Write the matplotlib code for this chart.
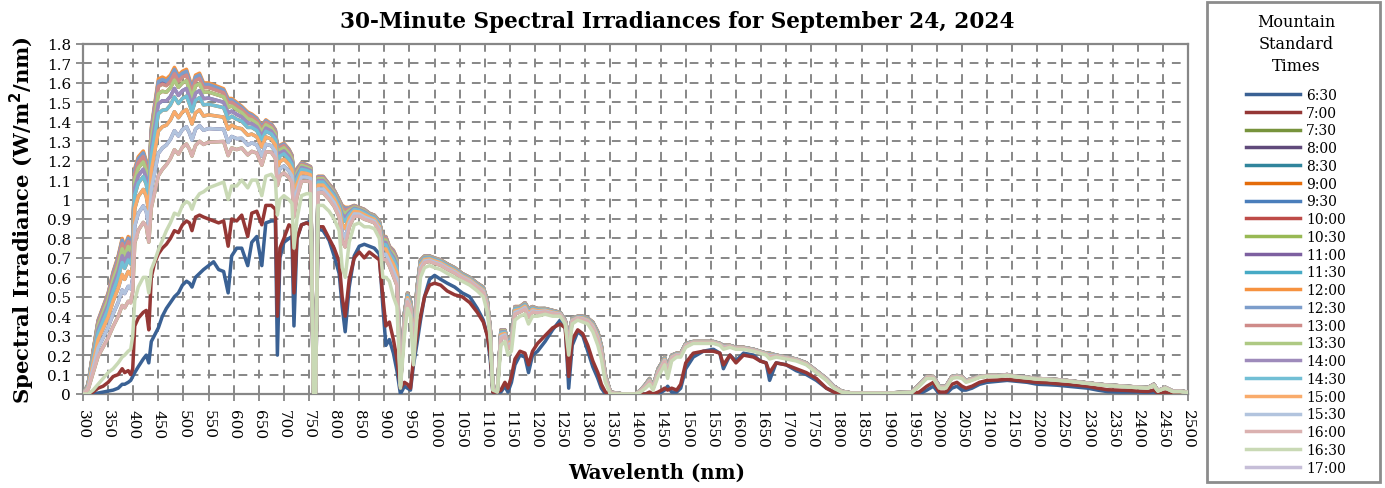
import numpy as np
import matplotlib
matplotlib.use("Agg")
import matplotlib.pyplot as plt
from matplotlib.patches import Rectangle
from matplotlib.ticker import MultipleLocator, FuncFormatter

plt.rcParams['font.family'] = ['DejaVu Serif', 'Liberation Serif']

# ---------------- data ----------------
wavelength_nm = [
    300, 310, 320, 330, 340, 350, 360, 370, 378, 383,
    390, 395, 399, 403, 410, 420, 426, 431, 436, 442,
    450, 458, 466, 474, 482, 490, 498, 506, 512, 517,
    524, 532, 540, 550, 560, 570, 580, 589, 596, 606,
    616, 628, 636, 646, 656, 664, 675, 683, 687, 692,
    700, 710, 716, 720, 726, 735, 745, 753, 759, 763,
    768, 778, 790, 800, 810, 816, 822, 830, 840, 850,
    860, 870, 880, 890, 897, 903, 910, 918, 925, 932,
    940, 946, 952, 958, 965, 972, 980, 990, 1000, 1012,
    1025, 1040, 1055, 1070, 1085, 1097, 1105, 1111, 1116, 1125,
    1132, 1140, 1146, 1153, 1160, 1170, 1180, 1187, 1195, 1205,
    1220, 1235, 1250, 1260, 1267, 1274, 1285, 1295, 1305, 1315,
    1325, 1332, 1340, 1350, 1375, 1400, 1410, 1420, 1428, 1435,
    1445, 1452, 1458, 1464, 1472, 1482, 1490, 1500, 1515, 1535,
    1555, 1568, 1575, 1588, 1600, 1615, 1635, 1648, 1660, 1667,
    1680, 1700, 1720, 1740, 1760, 1780, 1795, 1810, 1830, 1900,
    1950, 1965, 1980, 1993, 2005, 2018, 2030, 2040, 2050, 2058,
    2070, 2085, 2100, 2120, 2140, 2160, 2180, 2200, 2220, 2240,
    2260, 2280, 2300, 2320, 2340, 2360, 2380, 2400, 2420, 2432,
    2440, 2455, 2470, 2485, 2500,
]

# 12:00 (highest curve)
irr_1200 = [
    0.0, 0.05, 0.22, 0.38, 0.45, 0.52, 0.63, 0.71, 0.80, 0.76,
    0.81, 0.78, 0.82, 1.16, 1.22, 1.25, 1.20, 1.12, 1.37, 1.48,
    1.62, 1.63, 1.62, 1.64, 1.68, 1.64, 1.66, 1.67, 1.62, 1.58,
    1.64, 1.65, 1.60, 1.60, 1.59, 1.58, 1.57, 1.52, 1.52, 1.50,
    1.48, 1.45, 1.44, 1.42, 1.38, 1.41, 1.39, 1.36, 1.27, 1.28,
    1.29, 1.26, 1.23, 1.12, 1.16, 1.19, 1.18, 1.17, 0.02, 0.01,
    1.12, 1.12, 1.08, 1.05, 1.00, 0.97, 0.96, 0.96, 0.97, 0.96,
    0.95, 0.93, 0.92, 0.89, 0.81, 0.81, 0.76, 0.74, 0.70, 0.05,
    0.42, 0.52, 0.48, 0.30, 0.55, 0.69, 0.71, 0.71, 0.70, 0.69,
    0.67, 0.65, 0.62, 0.60, 0.57, 0.55, 0.48, 0.33, 0.03, 0.02,
    0.33, 0.33, 0.27, 0.30, 0.45, 0.45, 0.47, 0.44, 0.45, 0.44,
    0.44, 0.43, 0.42, 0.38, 0.30, 0.39, 0.40, 0.40, 0.39, 0.37,
    0.32, 0.25, 0.10, 0.01, 0.0, 0.0, 0.02, 0.05, 0.08, 0.04,
    0.13, 0.16, 0.19, 0.14, 0.20, 0.21, 0.21, 0.26, 0.27, 0.27,
    0.27, 0.26, 0.25, 0.25, 0.24, 0.24, 0.23, 0.22, 0.21, 0.21,
    0.20, 0.19, 0.18, 0.16, 0.12, 0.08, 0.04, 0.015, 0.005, 0.005,
    0.01, 0.05, 0.09, 0.09, 0.04, 0.04, 0.09, 0.095, 0.09, 0.07,
    0.08, 0.09, 0.095, 0.095, 0.10, 0.09, 0.086, 0.08, 0.077, 0.074,
    0.069, 0.063, 0.057, 0.051, 0.046, 0.043, 0.039, 0.036, 0.033, 0.05,
    0.017, 0.034, 0.015, 0.015, 0.01,
]

# 16:30
irr_1630 = [
    0.0, 0.0, 0.02, 0.05, 0.08, 0.11, 0.13, 0.16, 0.19, 0.20,
    0.22, 0.23, 0.30, 0.48, 0.55, 0.60, 0.60, 0.52, 0.64, 0.68,
    0.74, 0.79, 0.84, 0.88, 0.93, 0.92, 0.97, 0.99, 0.98, 0.95,
    1.00, 1.03, 1.04, 1.06, 1.07, 1.08, 1.09, 1.00, 1.07, 1.07,
    1.10, 1.06, 1.10, 1.10, 1.02, 1.12, 1.13, 1.10, 0.92, 1.00,
    1.02, 1.00, 0.98, 0.75, 0.90, 1.02, 1.03, 1.03, 0.0, 0.0,
    0.97, 0.97, 0.94, 0.90, 0.84, 0.65, 0.60, 0.78, 0.87, 0.88,
    0.86, 0.86, 0.85, 0.80, 0.60, 0.60, 0.58, 0.50, 0.45, 0.03,
    0.30, 0.44, 0.40, 0.15, 0.40, 0.60, 0.65, 0.66, 0.65, 0.64,
    0.62, 0.60, 0.58, 0.56, 0.53, 0.50, 0.42, 0.28, 0.02, 0.01,
    0.25, 0.27, 0.20, 0.22, 0.38, 0.40, 0.41, 0.36, 0.40, 0.40,
    0.41, 0.40, 0.40, 0.36, 0.20, 0.36, 0.38, 0.37, 0.36, 0.32,
    0.25, 0.18, 0.06, 0.0, 0.0, 0.0, 0.01, 0.03, 0.05, 0.02,
    0.09, 0.12, 0.15, 0.08, 0.17, 0.19, 0.19, 0.24, 0.26, 0.26,
    0.26, 0.25, 0.23, 0.24, 0.23, 0.23, 0.22, 0.21, 0.20, 0.18,
    0.19, 0.18, 0.17, 0.15, 0.11, 0.07, 0.03, 0.01, 0.003, 0.003,
    0.008, 0.04, 0.08, 0.08, 0.03, 0.03, 0.08, 0.085, 0.08, 0.06,
    0.07, 0.085, 0.09, 0.09, 0.095, 0.087, 0.082, 0.076, 0.074, 0.07,
    0.066, 0.06, 0.054, 0.048, 0.043, 0.04, 0.036, 0.033, 0.03, 0.045,
    0.015, 0.03, 0.012, 0.012, 0.008,
]

# 7:00
irr_0700 = [
    0.0, 0.0, 0.01, 0.03, 0.04, 0.06, 0.09, 0.10, 0.13, 0.11,
    0.12, 0.10, 0.13, 0.35, 0.39, 0.42, 0.43, 0.33, 0.60, 0.67,
    0.72, 0.75, 0.77, 0.80, 0.84, 0.83, 0.87, 0.89, 0.88, 0.84,
    0.91, 0.92, 0.91, 0.90, 0.89, 0.88, 0.89, 0.76, 0.90, 0.89,
    0.92, 0.81, 0.93, 0.94, 0.87, 0.97, 0.97, 0.95, 0.40, 0.75,
    0.80, 0.87, 0.86, 0.52, 0.80, 0.87, 0.88, 0.87, 0.0, 0.0,
    0.86, 0.86, 0.80, 0.75, 0.68, 0.50, 0.40, 0.59, 0.70, 0.73,
    0.70, 0.73, 0.71, 0.69, 0.50, 0.35, 0.37, 0.28, 0.18, 0.03,
    0.06, 0.05, 0.03, 0.18, 0.30, 0.40, 0.50, 0.56, 0.57, 0.56,
    0.53, 0.51, 0.50, 0.47, 0.42, 0.37, 0.30, 0.20, 0.01, 0.01,
    0.02, 0.06, 0.03, 0.09, 0.18, 0.22, 0.21, 0.15, 0.22, 0.26,
    0.30, 0.34, 0.36, 0.34, 0.09, 0.28, 0.33, 0.31, 0.25, 0.17,
    0.11, 0.05, 0.01, 0.0, 0.0, 0.0, 0.0, 0.0, 0.01, 0.0,
    0.01, 0.02, 0.03, 0.02, 0.03, 0.02, 0.05, 0.16, 0.21, 0.22,
    0.22, 0.21, 0.15, 0.20, 0.16, 0.20, 0.19, 0.17, 0.16, 0.11,
    0.16, 0.15, 0.13, 0.11, 0.08, 0.03, 0.01, 0.0, 0.0, 0.0,
    0.0, 0.01, 0.04, 0.06, 0.01, 0.01, 0.05, 0.06, 0.04, 0.03,
    0.04, 0.06, 0.07, 0.072, 0.075, 0.07, 0.065, 0.06, 0.058, 0.053,
    0.05, 0.045, 0.04, 0.03, 0.022, 0.02, 0.018, 0.015, 0.013, 0.02,
    0.005, 0.01, 0.004, 0.003, 0.0,
]

# 6:30
irr_0630 = [
    0.0, 0.0, 0.0, 0.005, 0.01, 0.015, 0.02, 0.03, 0.05, 0.05,
    0.06, 0.07, 0.09, 0.11, 0.14, 0.18, 0.20, 0.16, 0.27, 0.30,
    0.34, 0.40, 0.44, 0.47, 0.50, 0.52, 0.56, 0.58, 0.57, 0.55,
    0.60, 0.62, 0.64, 0.66, 0.68, 0.64, 0.63, 0.52, 0.71, 0.75,
    0.75, 0.66, 0.78, 0.81, 0.66, 0.88, 0.89, 0.89, 0.20, 0.70,
    0.78, 0.80, 0.81, 0.35, 0.80, 0.87, 0.88, 0.89, 0.0, 0.0,
    0.85, 0.84, 0.79, 0.71, 0.62, 0.45, 0.32, 0.55, 0.71, 0.76,
    0.77, 0.76, 0.75, 0.72, 0.45, 0.25, 0.28, 0.21, 0.12, 0.0,
    0.04, 0.03, 0.02, 0.15, 0.26, 0.38, 0.50, 0.59, 0.61, 0.59,
    0.57, 0.55, 0.52, 0.50, 0.44, 0.38, 0.30, 0.17, 0.01, 0.01,
    0.01, 0.04, 0.01, 0.06, 0.15, 0.20, 0.19, 0.11, 0.20, 0.22,
    0.27, 0.33, 0.38, 0.36, 0.03, 0.25, 0.32, 0.30, 0.22, 0.14,
    0.08, 0.03, 0.0, 0.0, 0.0, 0.0, 0.0, 0.0, 0.0, 0.0,
    0.0, 0.01, 0.02, 0.04, 0.01, 0.01, 0.03, 0.13, 0.19, 0.22,
    0.23, 0.21, 0.13, 0.20, 0.17, 0.21, 0.20, 0.17, 0.16, 0.07,
    0.16, 0.15, 0.12, 0.10, 0.07, 0.03, 0.01, 0.0, 0.0, 0.0,
    0.0, 0.0, 0.02, 0.04, 0.0, 0.0, 0.03, 0.04, 0.02, 0.02,
    0.03, 0.05, 0.06, 0.065, 0.07, 0.065, 0.06, 0.05, 0.048, 0.045,
    0.04, 0.035, 0.03, 0.02, 0.012, 0.01, 0.01, 0.01, 0.008, 0.01,
    0.0, 0.005, 0.0, 0.0, 0.0,
]

# Times whose curves lie between the 16:30 and 12:00 curves, with the
# irradiance level read for each at 498 nm (W/m2/nm)
mid_times = ['7:30', '8:00', '8:30', '9:00', '9:30', '10:00', '10:30',
             '11:00', '11:30', '12:30', '13:00', '13:30', '14:00',
             '14:30', '15:00', '15:30', '16:00']
mid_level_498nm = [1.27, 1.36, 1.45, 1.52, 1.56, 1.60, 1.63,
                   1.64, 1.65, 1.65, 1.63, 1.60, 1.56,
                   1.52, 1.45, 1.36, 1.27]

times = ['6:30', '7:00', '7:30', '8:00', '8:30', '9:00', '9:30', '10:00',
         '10:30', '11:00', '11:30', '12:00', '12:30', '13:00', '13:30',
         '14:00', '14:30', '15:00', '15:30', '16:00', '16:30', '17:00']

colors = ['#3A6194', '#953735', '#77933C', '#604A7B', '#31859C', '#E46C0A',
          '#4A7EBB', '#BE4B48', '#98B954', '#7D60A0', '#46AAC5', '#F69240',
          '#7C9DCB', '#CF8B89', '#AEC983', '#9E8BBB', '#72BFD5', '#F9AB6B',
          '#B2C4DE', '#DBB1B0', '#C9D9B5', '#C6BED8']

# ---------------- build series ----------------
wl = np.array(wavelength_nm, dtype=float)
top = np.array(irr_1200)
low = np.array(irr_1630)
ref = wavelength_nm.index(498)
series = {'6:30': np.array(irr_0630), '7:00': np.array(irr_0700),
          '12:00': top, '16:30': low, '17:00': None}
for t, lvl in zip(mid_times, mid_level_498nm):
    w = (lvl - low[ref]) / (top[ref] - low[ref])
    series[t] = low + w * (top - low)

# ---------------- figure ----------------
W, H = 1385, 489
fig = plt.figure(figsize=(W / 100, H / 100), dpi=100)
ax = fig.add_axes([83 / W, 1 - 395 / H, (1188 - 83) / W, (395 - 45) / H])

grid_c = '#878787'
for t, c in zip(times, colors):
    y = series[t]
    if y is None:
        ax.plot([], [], color=c, lw=2.5, label=t)
    else:
        ax.plot(wl, y, color=c, lw=2.5, label=t, zorder=3)

ax.set_xlim(300, 2500)
ax.set_ylim(0, 1.8)
ax.xaxis.set_major_locator(MultipleLocator(50))
ax.yaxis.set_major_locator(MultipleLocator(0.1))
ax.yaxis.set_major_formatter(FuncFormatter(lambda v, p: f"{round(v, 1):g}"))
ax.grid(True, color=grid_c, lw=1.4, linestyle=(0, (4.5, 3.5)), zorder=0)
for s in ax.spines.values():
    s.set_color(grid_c)
    s.set_linewidth(1.6)
ax.tick_params(axis='both', colors=grid_c, length=5, width=1.3,
               labelcolor='black', labelsize=11)
for lab in ax.get_xticklabels():
    lab.set_rotation(270)
ax.tick_params(axis='x', pad=6)

fig.text(677 / W, 1 - 22 / H, '30-Minute Spectral Irradiances for September 24, 2024',
         ha='center', va='center', fontsize=15.6, fontweight='bold')
fig.text(22 / W, 1 - 220 / H, 'Spectral Irradiance (W/m$^{\\mathbf{2}}$/nm)',
         ha='center', va='center', rotation=90, fontsize=15.2, fontweight='bold')
fig.text(657 / W, 1 - 473 / H, 'Wavelenth (nm)', ha='center', va='center',
         fontsize=14.3, fontweight='bold')

# legend box
fig.patches.append(Rectangle((1207 / W, 1 - 483 / H), 173 / W, 480 / H,
                             transform=fig.transFigure, fill=False,
                             edgecolor='#8C8C8C', lw=2))
handles, labels = ax.get_legend_handles_labels()
leg = fig.legend(handles, labels, loc='upper center',
                 bbox_to_anchor=(1296 / W, 1 - 7.5 / H), frameon=False,
                 title='Mountain\nStandard\nTimes', fontsize=10, title_fontsize=11.5,
                 handlelength=3.9, handletextpad=0.4, labelspacing=0.27,
                 borderpad=0, alignment='center')
leg.get_title().set_linespacing(1.37)
leg.get_title().set_multialignment('center')
leg._legend_box.sep = 10.0
for h in leg.legend_handles:
    h.set_linewidth(2.5)

fig.savefig('out.png', dpi=100)
